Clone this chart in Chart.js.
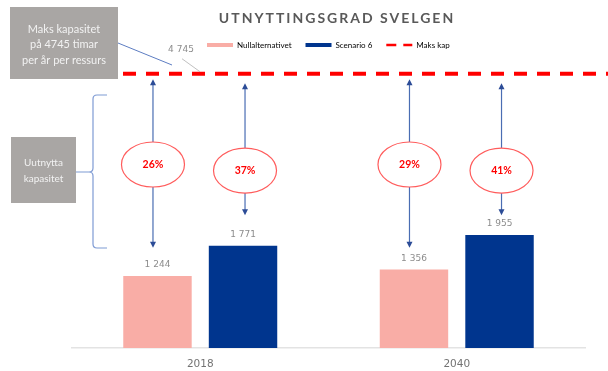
<!DOCTYPE html>
<html>
<head>
<meta charset="utf-8">
<script src="https://cdn.jsdelivr.net/npm/chart.js@4/dist/chart.umd.min.js"></script>
<style>
  html, body { margin: 0; padding: 0; background: #ffffff; }
  #wrap { width: 608px; height: 371px; position: relative; }
</style>
</head>
<body>
<div id="wrap"><canvas id="c" width="608" height="371"></canvas></div>
<script>
// ---- data ----
const years = ['2018', '2040'];
const nullalternativet = [1244, 1356];
const scenario6 = [1771, 1955];
const maksKap = 4745;
const seriesNames = ['Nullalternativet', 'Scenario 6', 'Maks kap'];
const titleText = 'UTNYTTINGSGRAD SVELGEN';
const noteMax = ['Maks kapasitet', 'på 4745 timar', 'per år per ressurs'];
const noteUnused = ['Uutnytta', 'kapasitet'];

// ---- styling ----
const PINK = '#f9ada6';
const NAVY = '#00358e';
const RED = '#ff0000';
const GREY_TEXT = '#595959';
const LABEL_TEXT = '#8c8c8c';
const NOTE_BOX = '#a9a6a4';
const ARROW = '#4a6db3';
const ARROW_HEAD = '#2c4c97';
const FONT = 'Lato, "Open Sans", "DejaVu Sans", sans-serif';
const NUM_FONT = '"DejaVu Sans", sans-serif';

// callout geometry: arrow x-nudge from each bar centre (px) per series,
// vertical extents / ring centres per series expressed in axis units
const arrowNudge = [-4.5, 2];
const arrowTop = [4650, 4580];
const arrowBottom = [1735, 2295];
const ringAt = [3175, 3070];

const fmt = v => String(v).replace(/\B(?=(\d{3})+(?!\d))/g, ' ');

function arrowHead(ctx, x, y, dir) {
  ctx.beginPath();
  ctx.moveTo(x, y);
  ctx.lineTo(x - 3, y - dir * 6);
  ctx.lineTo(x + 3, y - dir * 6);
  ctx.closePath();
  ctx.fill();
}

function noteBox(ctx, x, y, w, h, lines, size, lineGap, firstY) {
  ctx.fillStyle = NOTE_BOX;
  ctx.fillRect(x, y, w, h);
  ctx.fillStyle = '#f2f2f2';
  ctx.font = size + 'px ' + FONT;
  ctx.textAlign = 'center';
  ctx.textBaseline = 'middle';
  lines.forEach((t, i) => ctx.fillText(t, x + w / 2, firstY + i * lineGap));
}

const decorations = {
  id: 'decorations',
  afterLayout(chart) {
    // place legend items where the header row sits
    const lg = chart.legend;
    const pad = lg.options.labels.padding;
    const start = (lg.left + pad + lg.right - lg.lineWidths[0]) / 2;
    const dx = 207 - start;
    lg.left += dx;
    lg.right += dx;
  },
  afterDatasetsDraw(chart) {
    const { ctx, chartArea: ca, scales: { y } } = chart;
    const capY = y.getPixelForValue(maksKap);

    ctx.save();
    // max capacity line
    ctx.strokeStyle = RED;
    ctx.lineWidth = 4;
    ctx.setLineDash([13, 10]);
    ctx.beginPath();
    ctx.moveTo(ca.left + 5, capY);
    ctx.lineTo(chart.width, capY);
    ctx.stroke();
    ctx.setLineDash([]);

    // max capacity value label and leader
    ctx.fillStyle = LABEL_TEXT;
    ctx.font = '9px ' + NUM_FONT;
    ctx.textAlign = 'center';
    ctx.textBaseline = 'middle';
    ctx.fillText(fmt(maksKap), 181, capY - 24);
    ctx.strokeStyle = '#b0b0b0';
    ctx.lineWidth = 0.8;
    ctx.beginPath();
    ctx.moveTo(182, capY - 15);
    ctx.lineTo(200, capY - 2);
    ctx.stroke();

    [0, 1].forEach(ds => {
      const meta = chart.getDatasetMeta(ds);
      meta.data.forEach((bar, i) => {
        const v = chart.data.datasets[ds].data[i];
        // value label
        ctx.fillStyle = LABEL_TEXT;
        ctx.font = '9px ' + NUM_FONT;
        ctx.textAlign = 'center';
        ctx.textBaseline = 'middle';
        ctx.fillText(fmt(v), bar.x, bar.y - 11);

        // double-headed arrow spanning unused capacity
        const ax = bar.x + arrowNudge[ds];
        const top = y.getPixelForValue(arrowTop[ds]);
        const bot = y.getPixelForValue(arrowBottom[ds]);
        ctx.strokeStyle = ARROW;
        ctx.lineWidth = 1.2;
        ctx.beginPath();
        ctx.moveTo(ax, top + 5);
        ctx.lineTo(ax, bot - 5);
        ctx.stroke();
        ctx.fillStyle = ARROW_HEAD;
        arrowHead(ctx, ax, top, -1);
        arrowHead(ctx, ax, bot, 1);

        // utilisation ring
        const ry = y.getPixelForValue(ringAt[ds]);
        ctx.beginPath();
        ctx.ellipse(ax, ry, 31.5, 22.5, 0, 0, Math.PI * 2);
        ctx.fillStyle = '#ffffff';
        ctx.fill();
        ctx.strokeStyle = '#ff5c5c';
        ctx.lineWidth = 1.2;
        ctx.stroke();
        ctx.fillStyle = RED;
        ctx.font = 'bold 10.5px ' + FONT;
        ctx.fillText(Math.round(v / maksKap * 100) + '%', ax, ry + 0.5);
      });
    });
    ctx.restore();
  },
  afterDraw(chart) {
    const { ctx } = chart;
    ctx.save();
    // title
    ctx.fillStyle = GREY_TEXT;
    ctx.font = 'bold 14px ' + FONT;
    ctx.letterSpacing = '2px';
    ctx.textAlign = 'center';
    ctx.textBaseline = 'middle';
    ctx.fillText(titleText, 337, 18);
    ctx.letterSpacing = '0px';

    // note boxes
    noteBox(ctx, 10, 7, 108, 72, noteMax, 11, 15.5, 29);
    noteBox(ctx, 11, 137, 65, 66, noteUnused, 10, 16, 163);

    // connector from top note to the capacity label
    ctx.strokeStyle = '#5d7dc2';
    ctx.lineWidth = 1;
    ctx.beginPath();
    ctx.moveTo(118, 43);
    ctx.lineTo(172, 65);
    ctx.stroke();

    // brace around unused capacity
    ctx.strokeStyle = '#7f9bd4';
    ctx.lineWidth = 1.2;
    ctx.beginPath();
    ctx.moveTo(107, 95);
    ctx.lineTo(97, 95);
    ctx.quadraticCurveTo(93, 95, 93, 99);
    ctx.lineTo(93, 168);
    ctx.quadraticCurveTo(93, 172, 89, 172);
    ctx.quadraticCurveTo(93, 172, 93, 176);
    ctx.lineTo(93, 244);
    ctx.quadraticCurveTo(93, 248, 97, 248);
    ctx.lineTo(107, 248);
    ctx.moveTo(76, 172);
    ctx.lineTo(89, 172);
    ctx.stroke();
    ctx.restore();
  }
};

new Chart(document.getElementById('c'), {
  type: 'bar',
  data: {
    labels: years,
    datasets: [
      { label: seriesNames[0], data: nullalternativet, backgroundColor: PINK,
        categoryPercentage: 0.667, barPercentage: 0.80 },
      { label: seriesNames[1], data: scenario6, backgroundColor: NAVY,
        categoryPercentage: 0.667, barPercentage: 0.80 }
    ]
  },
  options: {
    responsive: false,
    animation: false,
    events: [],
    layout: { padding: { left: 72, right: 23, top: 27, bottom: 0 } },
    scales: {
      x: {
        grid: { display: false, drawTicks: false },
        border: { display: true, color: '#e3e3e3', width: 1.5 },
        ticks: { color: '#737373', font: { family: NUM_FONT, size: 10.5 }, padding: 10 },
        afterFit(scale) { scale.height = 23; }
      },
      y: { display: false, min: 0, max: 5000 }
    },
    plugins: {
      title: { display: false },
      tooltip: { enabled: false },
      legend: {
        position: 'top',
        labels: {
          usePointStyle: true,
          pointStyleWidth: 26,
          boxHeight: 4,
          padding: 14,
          color: '#7a7a7a',
          font: { family: FONT, size: 8 },
          generateLabels() {
            return [
              { text: seriesNames[0], fillStyle: PINK, strokeStyle: PINK, lineWidth: 0,
                pointStyle: 'rect', hidden: false, datasetIndex: 0 },
              { text: seriesNames[1], fillStyle: NAVY, strokeStyle: NAVY, lineWidth: 0,
                pointStyle: 'rect', hidden: false, datasetIndex: 1 },
              { text: seriesNames[2], fillStyle: 'rgba(0,0,0,0)', strokeStyle: RED, lineWidth: 2.5,
                lineDash: [10, 7], pointStyle: 'line', hidden: false }
            ];
          }
        }
      }
    }
  },
  plugins: [decorations]
});
</script>
</body>
</html>
